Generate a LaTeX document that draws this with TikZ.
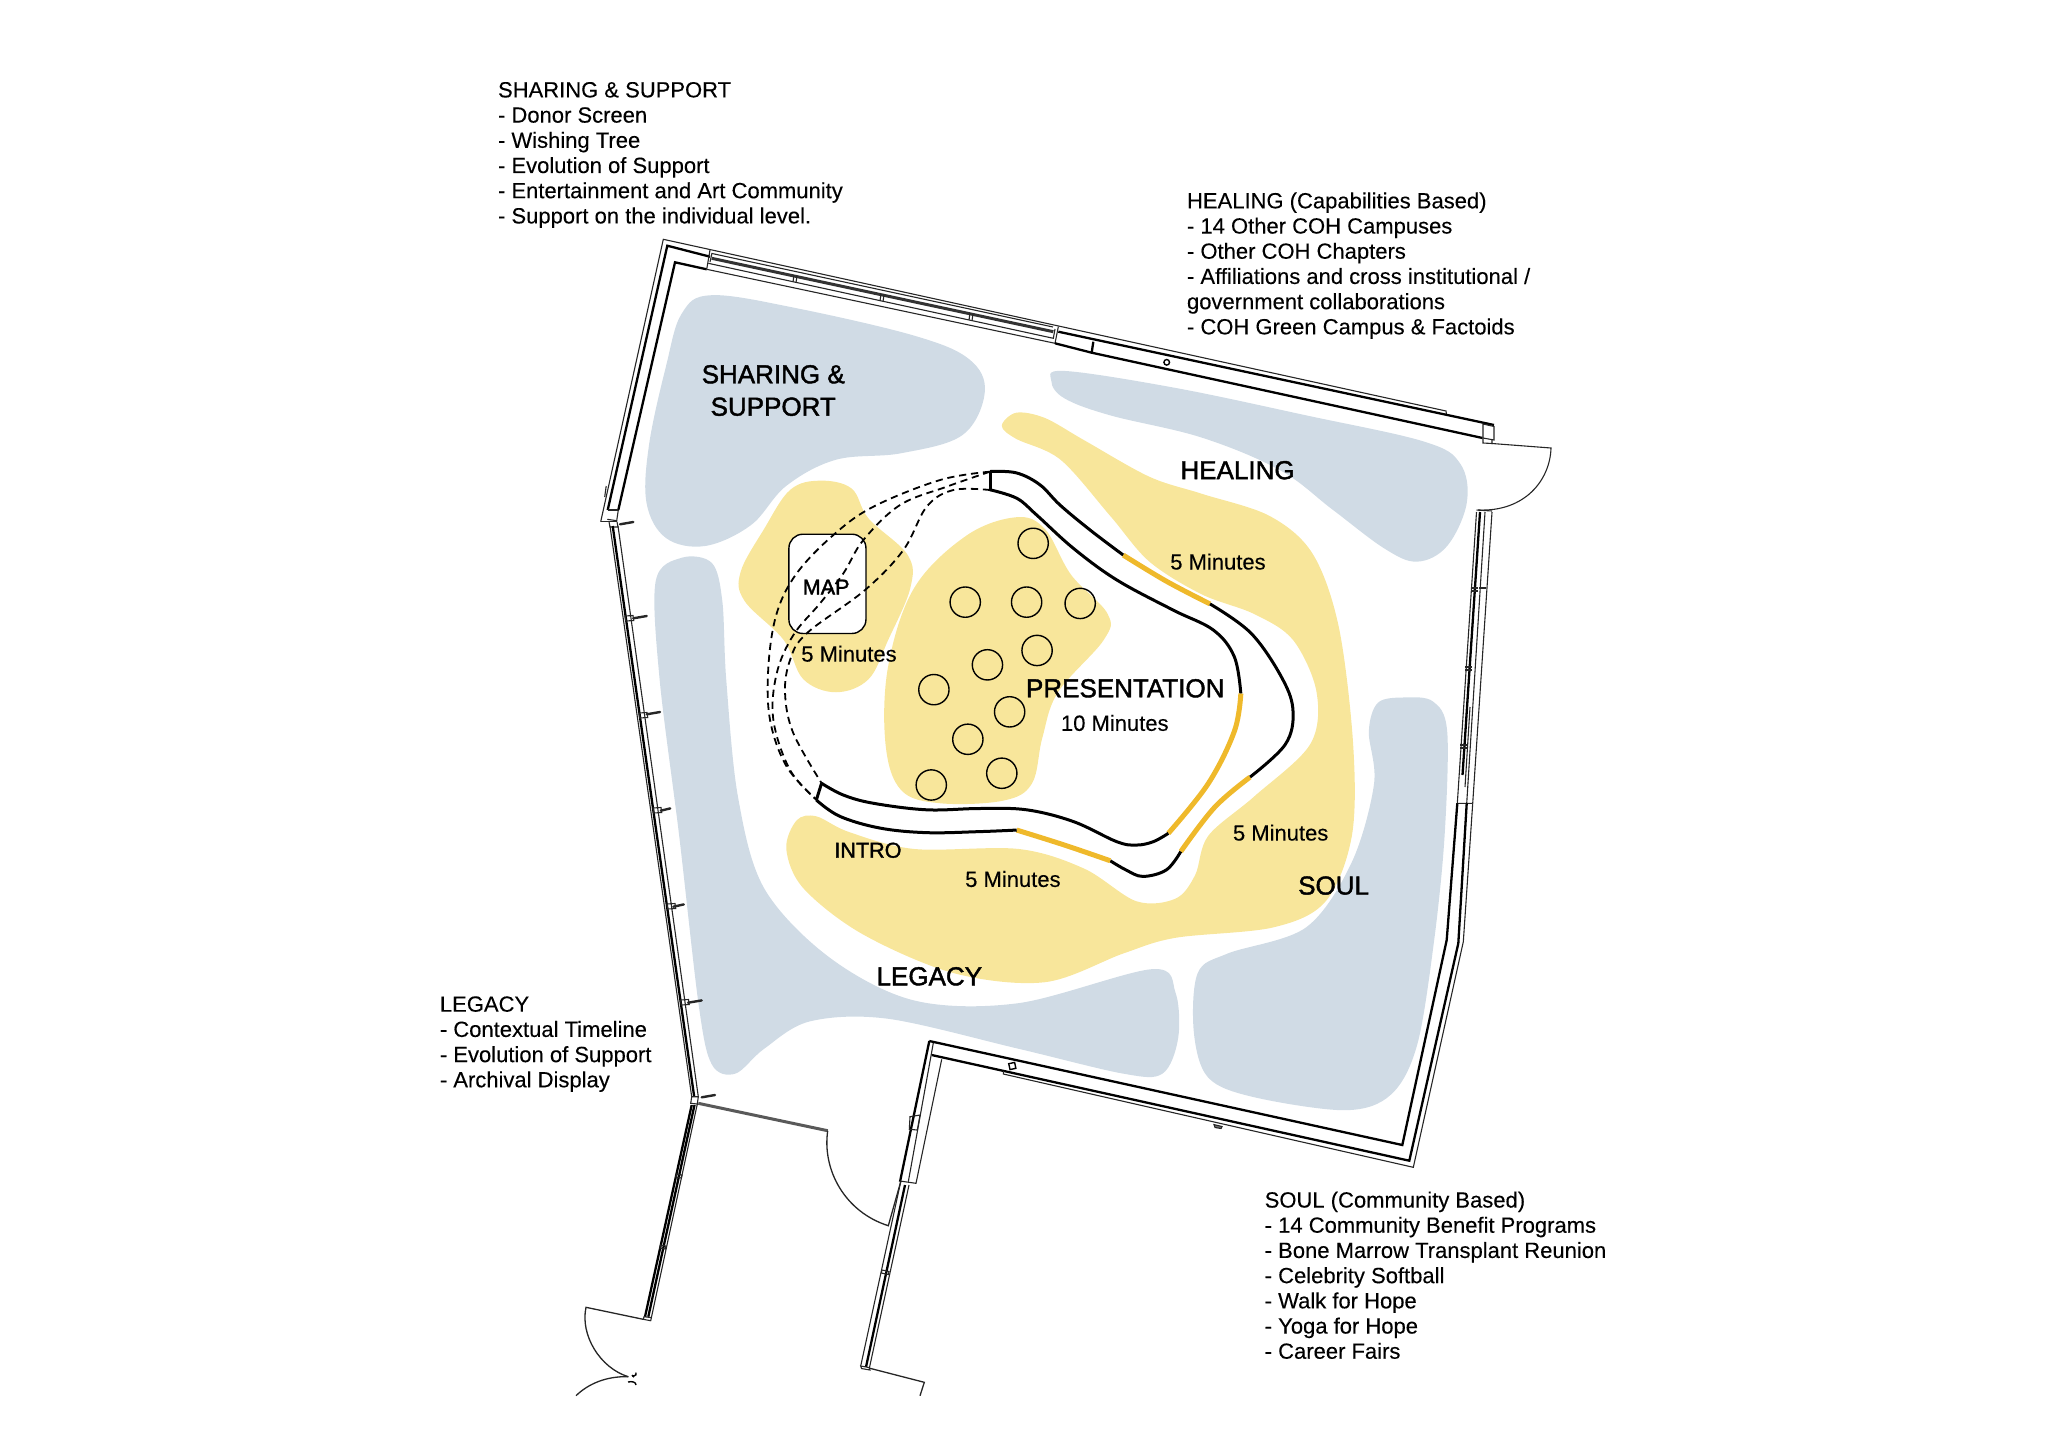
\documentclass[tikz,border=0pt]{standalone}
\usepackage{fontspec}
\setmainfont{Liberation Sans}
\newfontfamily\heavyfont[FakeBold=1.6]{Liberation Sans}
\newfontfamily\midfont[FakeBold=0.2]{Liberation Sans}
\definecolor{zoneblue}{RGB}{208,219,229}
\definecolor{zoneyellow}{RGB}{248,230,155}
\definecolor{trackyellow}{RGB}{239,185,43}
\tikzset{
  thinwall/.style={draw=black!85,line width=0.55pt},
  thickwall/.style={draw=black,line width=1.15pt},
  trackblack/.style={draw=black,line width=1.5pt},
  trackgold/.style={draw=trackyellow,line width=2.5pt},
  dashtrack/.style={draw=black,line width=0.9pt,dash pattern=on 3.6pt off 2.4pt},
  seat/.style={draw=black,line width=0.7pt},
  bodytext/.style={inner sep=0pt,anchor=north west,align=left,font=\midfont\fontsize{11}{12.6}\selectfont},
  bigtext/.style={inner sep=0pt,align=center,font=\heavyfont\fontsize{13}{16.2}\selectfont},
  smalltext/.style={inner sep=0pt,font=\heavyfont\fontsize{10.8}{12.6}\selectfont},
  minutes/.style={inner sep=0pt,font=\midfont\fontsize{11}{12.6}\selectfont},
}
\begin{document}
\begin{tikzpicture}[x=0.5pt,y=-0.5pt]
\useasboundingbox (0,0) rectangle (2048,1440);
\begin{scope}[scale=1.30612]
% blue zones
\fill[zoneblue] plot[smooth cycle,tension=0.6] coordinates {(545,226)(610,236)(700,257)(742,275)(754,300)(737,333)(690,347)(640,352)(602,372)(575,402)(540,418)(510,412)(495,385)(497,340)(510,280)(522,240)};
\fill[zoneblue] plot[smooth cycle,tension=0.6] coordinates {(815,284)(900,297)(1000,318)(1090,338)(1118,355)(1123,385)(1108,418)(1085,430)(1060,420)(1020,390)(980,360)(920,335)(850,318)(815,305)(805,292)};
\fill[zoneblue] plot[smooth cycle,tension=0.55] coordinates {(522,427)(545,431)(553,460)(556,520)(565,610)(585,680)(635,733)(700,766)(780,768)(882,742)(900,760)(902,795)(890,822)(860,822)(780,803)(680,780)(620,782)(585,803)(563,822)(545,815)(535,770)(520,640)(505,520)(502,445)};
\fill[zoneblue] plot[smooth cycle,tension=0.55] coordinates {(1075,534)(1097,537)(1108,560)(1106,640)(1098,720)(1085,800)(1065,838)(1030,850)(960,840)(925,825)(914,790)(917,745)(940,730)(1000,710)(1035,660)(1052,600)(1048,560)(1055,538)};
% yellow zones
\fill[zoneyellow] plot[smooth cycle,tension=0.55] coordinates {(778,316)(800,320)(830,337)(880,365)(920,378)(972,395)(1005,424)(1025,480)(1036,570)(1035,640)(1015,690)(975,710)(900,718)(860,730)(800,752)(730,745)(660,715)(615,680)(602,650)(610,628)(625,625)(650,637)(700,650)(780,650)(830,665)(870,690)(900,688)(915,670)(925,640)(960,610)(1003,570)(1008,530)(990,490)(960,470)(920,455)(880,430)(850,395)(812,352)(778,336)(767,326)};
\fill[zoneyellow] plot[smooth cycle,tension=0.6] coordinates {(628,368)(652,374)(665,397)(695,425)(697,450)(680,490)(665,520)(640,530)(615,520)(600,490)(570,460)(567,438)(585,405)(605,375)};
\fill[zoneyellow] plot[smooth cycle,tension=0.6] coordinates {(778,396)(800,405)(820,440)(848,470)(845,490)(810,530)(798,565)(790,600)(768,613)(720,615)(690,605)(678,570)(680,510)(700,450)(740,410)};
% map
\node[draw=black,line width=0.7pt,fill=white,rounded corners=7pt,minimum width=29.5pt*1.306,minimum height=38pt*1.306,inner sep=0pt] (mapbox) at (633.5,447) {};
% dashed routes
\begin{scope}[shift={(566.6,352.2)},scale=0.2552]
\draw[dashtrack] plot[smooth,tension=0.6] coordinates {(750,35)(600,60)(400,140)(280,225)(170,340)(110,460)(85,620)(90,780)(140,920)(230,1020)};
\draw[dashtrack] plot[smooth,tension=0.6] coordinates {(750,35)(620,80)(480,135)(370,240)(310,340)(240,430)(160,525)(110,640)(100,780)(150,930)(230,1020)};
\draw[dashtrack] plot[smooth,tension=0.6] coordinates {(750,90)(640,90)(560,140)(490,270)(375,390)(200,520)(150,600)(135,700)(160,820)(245,970)};
\end{scope}
% tracks
\draw[trackblack] (758,361) -- (758,375);
\draw[trackblack] (625,612.5) -- (629,599.7);
\draw[trackblack] plot[smooth,tension=0.6] coordinates {(758,361)(778,362)(796,371)(811.6,386.7)(834.6,405.8)(860,425)};
\draw[trackgold] plot[smooth,tension=0.6] coordinates {(860,425)(893,445)(926.4,462.4)};
\draw[trackblack] plot[smooth,tension=0.6] coordinates {(926.4,462.4)(958,485)(982,520)(990,545)(984,570)(957,595)};
\draw[trackgold] plot[smooth,tension=0.6] coordinates {(957,595)(930,618)(904,652)};
\draw[trackblack] plot[smooth,tension=0.6] coordinates {(904,652)(893,666)(875,671)(862,666)(850,659)};
\draw[trackgold] plot[smooth,tension=0.6] coordinates {(850,659)(815,647)(778.4,635.5)};
\draw[trackblack] plot[smooth,tension=0.6] coordinates {(778.4,635.5)(750,636.7)(709.5,637.5)(673.8,634)(643,625)(625,612.5)};
\draw[trackblack] plot[smooth,tension=0.6] coordinates {(758,375)(778.5,381.5)(793.7,394.3)(821.8,419.8)(855,444)(898,467)(929,482.4)(945,502.8)(950,531)};
\draw[trackgold] plot[smooth,tension=0.6] coordinates {(950,531)(945,560)(925,600)(894.5,638)};
\draw[trackblack] plot[smooth,tension=0.6] coordinates {(894.5,638)(883,644.4)(870,647)(855,644.4)(821.8,629)(786,620)(750,619)(709.5,620)(668.7,615)(645.7,608.7)(629,599.7)};
% seats
\foreach \sx/\sy in {791/416,739/461,786/461,827/462,794/498,756/509,715/528,773/545,741/566,767/592,713/601}
  \draw[seat] (\sx,\sy) circle (11.6);
\end{scope}
% --- walls, reference pixels ---
% top-left corner and top wall
\draw[thinwall] (600.7,521.7) -- (663.3,239.3) -- (1446,411) -- (1446.5,415);
\draw[thickwall] (607.7,510) -- (667.3,245.7) -- (710,256.7);
\draw[thickwall] (618.3,510) -- (675,262.3) -- (706.7,269.3);
\draw[thinwall] (710,250) -- (706.7,269.3);
\draw[thinwall] (712,253) -- (710,262);
\draw[draw=black!80,line width=1.5pt] (711.7,258.3) -- (1053.3,331.7);
\draw[thinwall] (712,253.5) -- (1053,327);
\draw[thinwall] (708.3,263.3) -- (1053.3,338.3) -- (1055,329);
\draw[thinwall] (706.7,269.3) -- (1055,343.3) -- (1058.3,326.7);
\foreach \mx/\my in {794/275,881/294,970/313}{
  \draw[thinwall] (\mx,\my) -- ++(-1,7);
  \draw[thinwall] (\mx+3,\my+0.7) -- ++(-1,7);
}
\draw[thickwall] (1058.3,331.7) -- (1494,425);
\draw[thickwall] (1055,343.3) -- (1091.7,352.7) -- (1482.5,438);
\draw[thickwall] (1093.3,341.7) -- (1091.7,352.7);
\draw[line width=0.7pt] (1166.7,362.3) circle (2.8);
% east end and door
\draw[thinwall] (1483,424) -- (1494,426.5) -- (1494,440) -- (1483,438) -- cycle;
\draw[thinwall] (1483,438) -- (1483,443) -- (1492,443.5) -- (1492,440);
\draw[thinwall] (1492,443.5) -- (1551,448) .. controls (1550,480) and (1525,512) .. (1478,510);
% east wall
\draw[thinwall] (1476.5,510) -- (1492,511);
\draw[thinwall] (1476.5,512) -- (1457.3,803.3) -- (1472.7,803.3);
\draw[thickwall] (1480,512) -- (1462.5,775);
\draw[thinwall] (1465,787) -- (1470,707);
\draw[thinwall] (1485,512) -- (1466.7,803.3);
\draw[thinwall] (1492,512) -- (1472.7,803.3);
\foreach \my/\mx in {588/1471,667/1465,745/1460}{
  \draw[thinwall] (\mx,\my) -- ++(7,0);
  \draw[thinwall] (\mx,\my+3) -- ++(7,0);
}
\draw[thinwall] (1479,588) -- (1486,588);
\draw[thickwall] (1457.3,803.3) -- (1446.7,940) -- (1402.3,1145) -- (929.3,1041);
\draw[thickwall] (1466.7,803.3) -- (1458.3,943.3) -- (1409.3,1160.7) -- (931.7,1055);
\draw[thinwall] (1472.7,803.3) -- (1463.3,941.7) -- (1413.3,1167.3) -- (1003.3,1074) -- (1003.3,1071);
\draw[thinwall,fill=black!55] (1214,1124.6) -- (1222,1126.5) -- (1221,1128.5) -- (1215,1127.5) -- cycle;
\draw[line width=0.7pt,rotate around={12:(1012.3,1066)}] (1009.3,1063) rectangle (1015.3,1069);
% west wall
\draw[thinwall] (600.7,521.7) -- (617,521.7);
\draw[thinwall] (607.7,510) -- (618.3,510);
\draw[thinwall] (607.3,519.3) -- (616.7,520.7) -- (618.3,510);
\draw[thinwall] (606.2,486) -- (604.7,497);
\draw[thinwall] (609,521.7) -- (610,527) -- (618,527) -- (617,521.7);
\draw[thinwall] (610,526) -- (691.7,1096.7);
\draw[thickwall] (612.7,526) -- (694.2,1096.7);
\draw[thinwall] (618,526) -- (698.3,1096.7);
\foreach \tx/\ty/\ex in {620/524.3/13.3,633.3/618.3/13.4,646.7/714.3/13.3,660.7/810.7/9.5,673.3/906.7/10.5,688/1002.7/13.7,701.7/1097.3/13.3}
  \draw[line width=1.2pt,line cap=round,black!85] (\tx,\ty) -- ++(\ex,-2.3);
\foreach \mx/\my in {625/616,639/713,653/808,667/904,680.5/1000}
  \draw[thinwall] (\mx,\my) -- ++(8,-0.5) -- ++(0.7,5) -- ++(-8,0.5) -- cycle;
% corner node and south-west wall
\draw[thinwall] (691.7,1096.7) -- (698.3,1096.7) -- (697.3,1104) -- (690.7,1103.3) -- cycle;
\draw[thickwall] (691.7,1105) -- (645,1316.7);
\draw[thickwall] (694.5,1105) -- (648.3,1316.7);
\draw[thinwall] (697.3,1104) -- (650.7,1320.7) -- (643.3,1319.3) -- (644,1316.7) -- (650.7,1317.5);
\foreach \mx/\my in {676.5/1174,660.5/1245}
  \draw[thinwall] (\mx,\my) -- ++(5.5,1) -- ++(-0.7,3) -- ++(-5.5,-1) -- cycle;
% door leaf and swing south-west
\draw[thinwall,line width=0.65pt] (643.3,1319.3) -- (586,1307.3) .. controls (580,1335) and (600,1368) .. (628.3,1376.7);
\draw[thinwall,line width=0.65pt] (628.3,1376.7) .. controls (606,1376) and (588,1384) .. (576,1395.7);
\draw[line width=0.7pt] (632,1376) .. controls (636,1376) and (637,1374) .. (636,1372.5);
\draw[line width=0.7pt] (632,1375) -- (634,1377);
\draw[line width=0.7pt] (628,1382) .. controls (632,1381) and (636,1382) .. (636,1385);
% partition and door, entrance
\draw[draw=black!65,line width=1.5pt] (698.3,1103.3) -- (827.7,1130.7);
\draw[thinwall,line width=0.65pt] (827.7,1130.7) .. controls (822,1170) and (845,1212) .. (888.3,1225.7) -- (900.7,1181.7);
\draw[thickwall] (929.3,1041) -- (900,1181.7);
\draw[thinwall] (933.3,1043) -- (908.3,1181.7);
\draw[thinwall] (941.7,1059.3) -- (916,1183.3) -- (900,1181);
\draw[thinwall] (910,1116.7) -- (920,1115) -- (917.3,1130) -- (909.3,1129.3) -- cycle;
\draw[thinwall] (900.7,1181.7) -- (860.7,1366);
\draw[thickwall] (905,1185) -- (866,1367);
\draw[thinwall] (909,1185) -- (869.3,1368.3);
\draw[thinwall] (882,1270) -- ++(7,1.5) -- ++(-0.7,3) -- ++(-7,-1.5) -- cycle;
\draw[thinwall] (860.7,1366) -- (869,1367.5) -- (870,1370) -- (861.5,1368.5) -- cycle;
\draw[thinwall,line width=0.65pt] (870,1368.3) -- (924.3,1382.3) -- (920,1395.7);
% --- text ---
\begin{scope}[scale=1.30612]
\node[bodytext] (sharingnote) at (381,62.5) {SHARING \& SUPPORT\\- Donor Screen\\- Wishing Tree\\- Evolution of Support\\- Entertainment and Art Community\\- Support on the individual level.};
\node[bodytext] (healingnote) at (908.5,147) {HEALING (Capabilities Based)\\- 14 Other COH Campuses\\- Other COH Chapters\\- Affiliations and cross institutional /\\government collaborations\\- COH Green Campus \& Factoids};
\node[bodytext] (legacynote) at (336.5,762.5) {LEGACY\\- Contextual Timeline\\- Evolution of Support\\- Archival Display};
\node[bodytext] (soulnote) at (968,912) {SOUL (Community Based)\\- 14 Community Benefit Programs\\- Bone Marrow Transplant Reunion\\- Celebrity Softball\\- Walk for Hope\\- Yoga for Hope\\- Career Fairs};
\node[bigtext] (sharing) at (592,299) {SHARING \&\\SUPPORT};
\node[bigtext] (healing) at (947.5,360) {HEALING};
\node[bigtext] (presentation) at (861.5,527) {PRESENTATION};
\node[bigtext] (soul) at (1021,678) {SOUL};
\node[bigtext] (legacy) at (711.5,747.5) {LEGACY};
\node[smalltext] (intro) at (664.5,651) {INTRO};
\node[smalltext] (map) at (632.5,449.5) {MAP};
\node[minutes] (m1) at (932.5,430) {5 Minutes};
\node[minutes] (m2) at (650,500.5) {5 Minutes};
\node[minutes] (m3) at (853.5,553.5) {10 Minutes};
\node[minutes] (m4) at (980.5,637.5) {5 Minutes};
\node[minutes] (m5) at (775.5,673) {5 Minutes};
\end{scope}
\end{tikzpicture}
\end{document}
